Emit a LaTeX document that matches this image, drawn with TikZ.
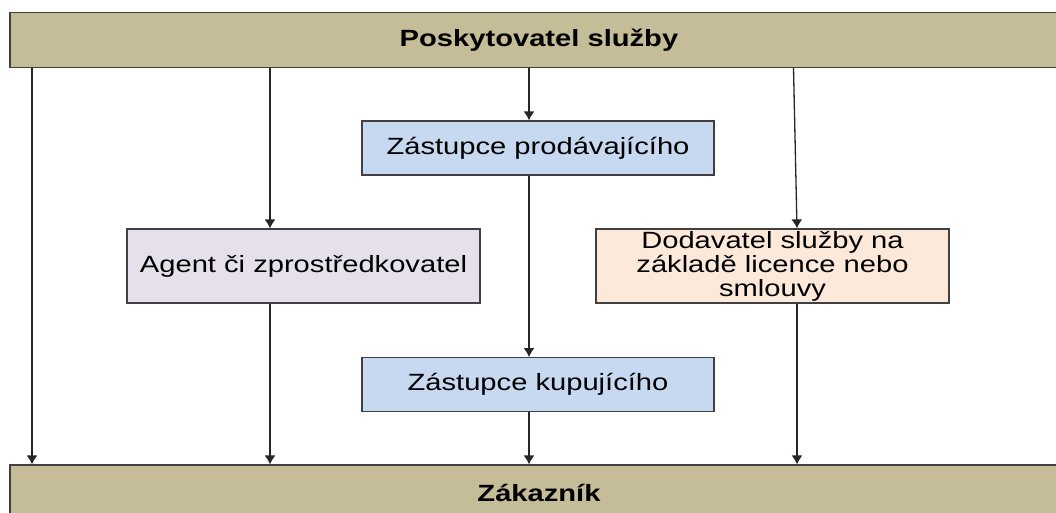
\documentclass[tikz,border=0pt]{standalone}
\usepackage{fontspec}
\setmainfont{Liberation Sans}[FakeStretch=1.24]
\usetikzlibrary{arrows.meta}
\definecolor{barfill}{RGB}{196,189,151}
\definecolor{agentfill}{RGB}{229,224,236}
\definecolor{repfill}{RGB}{198,217,240}
\definecolor{licfill}{RGB}{253,233,217}

\begin{document}
\begin{tikzpicture}[x=1pt,y=-1pt,>={Latex[length=9pt,width=11pt]},
    every node/.style={font=\fontsize{23.5}{24}\selectfont},
    bar/.style={draw=black!75,fill=barfill,line width=1.3pt,
        minimum width=1058pt,minimum height=55pt,
        font=\fontsize{23.5}{24}\selectfont\bfseries},
    box/.style={draw=black!75,line width=1.3pt,inner sep=0pt,align=center,
        minimum width=352pt,minimum height=54pt}]
    \useasboundingbox (0,0) rectangle (1056,512);
    \node[bar] (posk) at (539,40) {Poskytovatel služby};
    \node[bar] (zak) at (539,492.5) {Zákazník};

    \node[box,fill=repfill] (prod) at (538,148) {Zástupce prodávajícího};
    \node[box,fill=repfill] (kup) at (538,384.7) {Zástupce kupujícího};
    \node[box,fill=agentfill,minimum width=353pt,minimum height=74pt] (agent) at (303.5,266) {Agent či zprostředkovatel};
    \node[box,fill=licfill,minimum width=353pt,minimum height=74pt] (lic) at (772.5,266)
        {Dodavatel služby na\\základě licence nebo\\smlouvy};

    % columns of the connectors
    \coordinate (lx) at (32,0);
    \coordinate (ax) at (270,0);
    \coordinate (mx) at (529,0);
    \coordinate (rt) at (793.5,0);
    \coordinate (rx) at (797,0);

    \path[->,color=black!85,line width=1.3pt]
    (posk.south -| lx) edge (zak.north -| lx)
    (posk.south -| ax) edge (agent.north -| ax)
    (agent.south -| ax) edge (zak.north -| ax)
    (posk.south -| mx) edge (prod.north -| mx)
    (prod.south -| mx) edge (kup.north -| mx)
    (kup.south -| mx) edge (zak.north -| mx)
    (posk.south -| rt) edge (lic.north -| rx)
    (lic.south -| rx) edge (zak.north -| rx);
\end{tikzpicture}
\end{document}
